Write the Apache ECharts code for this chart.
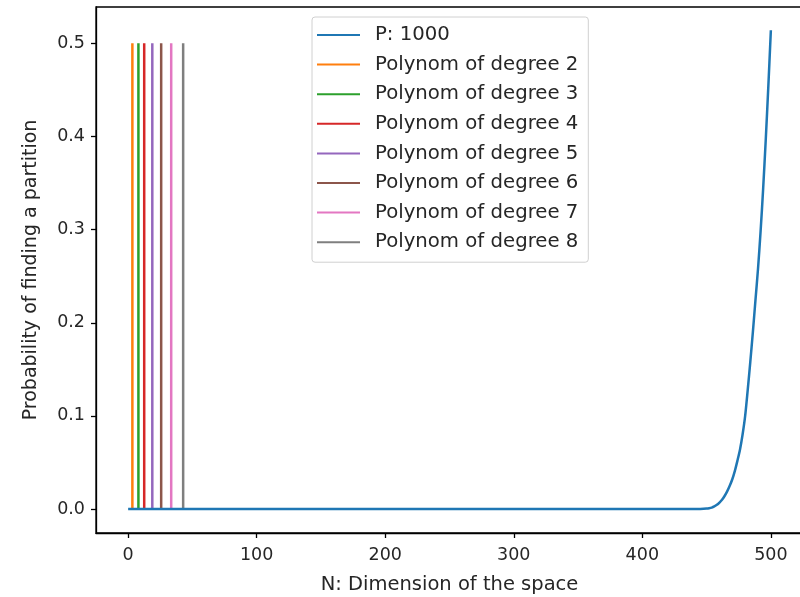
<!DOCTYPE html>
<html>
<head>
<meta charset="utf-8">
<script src="https://cdn.jsdelivr.net/npm/echarts@6/dist/echarts.min.js"></script>
<style>html,body{margin:0;padding:0;background:#fff;}#c{width:800px;height:597px;}</style>
</head>
<body>
<div id="c"></div>
<script>
// Blue curve: P = 1000, probability vs dimension N
const curveN    = [0, 100, 200, 300, 400, 440, 445, 450, 452, 454, 456, 458, 460, 462, 464, 466, 468, 470, 472, 474, 476, 478, 480, 482, 484, 486, 488, 490, 492, 494, 496, 498, 500];
const curveProb = [0, 0, 0, 0, 0, 0, 0.0001, 0.0005, 0.0009, 0.0016, 0.0028, 0.0045, 0.007, 0.010, 0.014, 0.019, 0.025, 0.032, 0.041, 0.052, 0.064, 0.080, 0.100, 0.128, 0.158, 0.190, 0.224, 0.258, 0.298, 0.344, 0.396, 0.453, 0.514];
// Polynomial thresholds (vertical segments)
const polyNames  = ['Polynom of degree 2','Polynom of degree 3','Polynom of degree 4','Polynom of degree 5','Polynom of degree 6','Polynom of degree 7','Polynom of degree 8'];
const polyN      = [3.3, 8, 12.5, 18.8, 25.7, 33.5, 42.8];
const polyLow    = 0;
const polyHigh   = 0.5;
const curveName  = 'P: 1000';
const xTicks = [0, 100, 200, 300, 400, 500];
const yTicks = [0, 0.1, 0.2, 0.3, 0.4, 0.5];

const colors = ['#1f77b4','#ff7f0e','#2ca02c','#d62728','#9467bd','#8c564b','#e377c2','#7f7f7f'];
const font = 'DejaVu Sans';
const txt = '#262626';

const series = [{
  name: curveName, type: 'line', symbol: 'none', showSymbol: false, smooth: 0.3,
  data: curveN.map((n, i) => [n, curveProb[i]]),
  lineStyle: { width: 2.5, color: colors[0] }, itemStyle: { color: colors[0] }, z: 3
}];
polyNames.forEach((nm, i) => {
  series.push({
    name: nm, type: 'line', symbol: 'none', showSymbol: false,
    data: [[polyN[i], polyLow], [polyN[i], polyHigh]],
    lineStyle: { width: 2.5, color: colors[i + 1] }, itemStyle: { color: colors[i + 1] }, z: 2
  });
});

const chart = echarts.init(document.getElementById('c'), null, { renderer: 'canvas' });
chart.setOption({
  animation: false,
  backgroundColor: '#fff',
  textStyle: { fontFamily: font, color: txt },
  grid: { left: 96, width: 707, top: 7, bottom: 64, show: true, borderColor: '#000', borderWidth: 1.3, containLabel: false, outerBoundsMode: 'none' },
  legend: {
    orient: 'vertical', left: 312, top: 17,
    data: [curveName].concat(polyNames),
    itemWidth: 43, itemHeight: 14, itemGap: 9.6,
    icon: 'path://M0,6 L43,6 L43,8 L0,8 Z',
    textStyle: { fontFamily: font, fontSize: 19.7, lineHeight: 19, color: txt, padding: [0, 0, 0, 10] },
    backgroundColor: 'rgba(255,255,255,0.85)',
    borderColor: '#d0d0d0', borderWidth: 1, borderRadius: 3,
    padding: [8, 10, 10, 5]
  },
  xAxis: {
    type: 'value', min: -25, max: 525,
    name: 'N: Dimension of the space', nameLocation: 'middle', nameGap: 42,
    nameTextStyle: { fontFamily: font, fontSize: 19.5, color: txt },
    axisLine: { show: true, onZero: false, lineStyle: { color: '#000', width: 1.3 } },
    axisTick: { show: true, inside: false, length: 5, customValues: xTicks, lineStyle: { color: '#000', width: 1.3 } },
    axisLabel: { customValues: xTicks, margin: 13, fontFamily: font, fontSize: 17.5, color: txt, formatter: v => String(v) },
    splitLine: { show: false }
  },
  yAxis: {
    type: 'value', min: -0.0257, max: 0.539,
    name: 'Probability of finding a partition', nameLocation: 'middle', nameGap: 55, nameRotate: 90,
    nameTextStyle: { fontFamily: font, fontSize: 19, color: txt },
    axisLine: { show: true, onZero: false, lineStyle: { color: '#000', width: 1.3 } },
    axisTick: { show: true, inside: false, length: 5, customValues: yTicks, lineStyle: { color: '#000', width: 1.3 } },
    axisLabel: { customValues: yTicks, margin: 11, fontFamily: font, fontSize: 17.5, color: txt, formatter: v => v.toFixed(1) },
    splitLine: { show: false }
  },
  series: series
});
</script>
</body>
</html>
